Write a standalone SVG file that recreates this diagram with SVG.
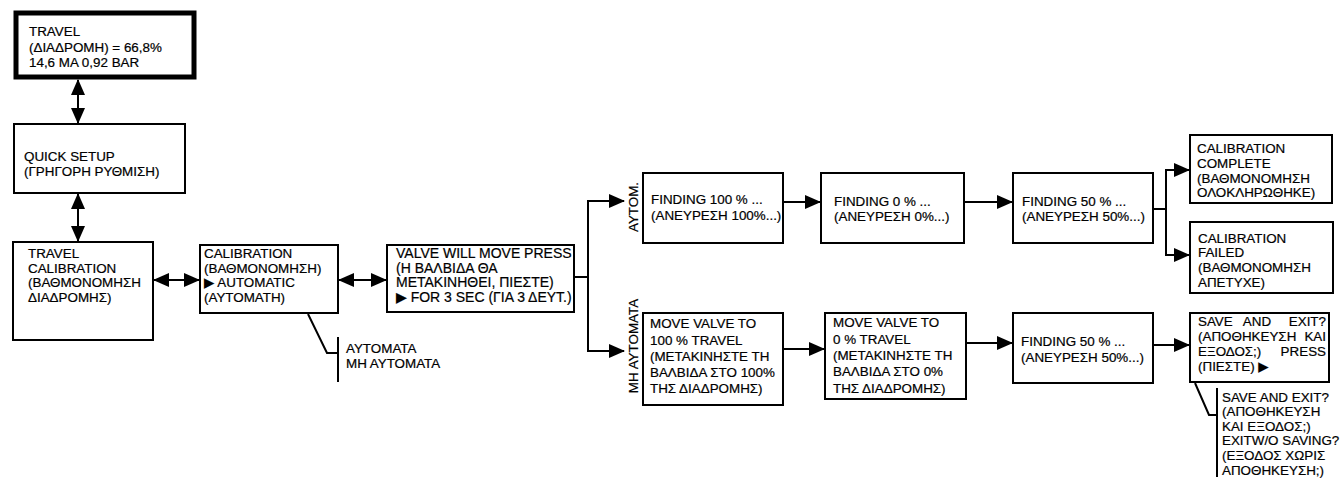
<svg xmlns="http://www.w3.org/2000/svg" width="1342" height="479" viewBox="0 0 1342 479">
<defs>
<style>
.b{fill:#fff;stroke:#000;stroke-width:2}
.bt{fill:#fff;stroke:#000;stroke-width:5}
.l{fill:none;stroke:#000;stroke-width:2}
text{font-family:"Liberation Sans",Arial,"DejaVu Sans",sans-serif;font-size:13.4px;fill:#000;stroke:#000;stroke-width:0.2}
.e{text-anchor:end}
.m{text-anchor:middle}
.v{font-size:14px}
</style>
<marker id="ah" markerUnits="userSpaceOnUse" markerWidth="16" markerHeight="15" viewBox="0 0 16 15" refX="15" refY="7.5" orient="auto-start-reverse">
<path d="M0,0.5 L16,7.5 L0,14.5 z" fill="#000"/>
</marker>
</defs>
<rect width="1342" height="479" fill="#fff"/>

<g id="connectors">
<line class="l" x1="78" y1="80" x2="78" y2="123" marker-start="url(#ah)" marker-end="url(#ah)"/>
<line class="l" x1="78" y1="194" x2="78" y2="241" marker-start="url(#ah)" marker-end="url(#ah)"/>
<line class="l" x1="154" y1="280" x2="199" y2="280" marker-start="url(#ah)" marker-end="url(#ah)"/>
<line class="l" x1="339" y1="280" x2="386" y2="280" marker-start="url(#ah)" marker-end="url(#ah)"/>
<polyline class="l" points="308,314 327,353 338,353"/>
<line class="l" x1="338" y1="337" x2="338" y2="382"/>
<line class="l" x1="574" y1="277" x2="588" y2="277"/>
<line class="l" x1="588" y1="200" x2="588" y2="352"/>
<polyline class="l" points="588,201 624,201" marker-end="url(#ah)"/>
<polyline class="l" points="588,351 624,351" marker-end="url(#ah)"/>
<line class="l" x1="783" y1="202" x2="820" y2="202" marker-end="url(#ah)"/>
<line class="l" x1="964" y1="202" x2="1012" y2="202" marker-end="url(#ah)"/>
<line class="l" x1="1153" y1="209" x2="1166" y2="209"/>
<line class="l" x1="1166" y1="169" x2="1166" y2="256"/>
<line class="l" x1="1166" y1="170" x2="1189" y2="170" marker-end="url(#ah)"/>
<line class="l" x1="1166" y1="255" x2="1189" y2="255" marker-end="url(#ah)"/>
<line class="l" x1="783" y1="349" x2="824" y2="349" marker-end="url(#ah)"/>
<line class="l" x1="966" y1="343" x2="1012" y2="343" marker-end="url(#ah)"/>
<line class="l" x1="1153" y1="345" x2="1189" y2="345" marker-end="url(#ah)"/>
<polyline class="l" points="1195,383 1209,415 1217,415"/>
<line class="l" x1="1217" y1="388" x2="1217" y2="477"/>
</g>

<g id="travel">
<rect class="bt" x="16" y="13" width="178" height="64"/>
<text x="29" y="36">TRAVEL</text>
<text x="29" y="52">(ΔΙΑΔΡΟΜΗ) = 66,8%</text>
<text x="29" y="67">14,6 MA 0,92 BAR</text>
</g>

<g id="quick-setup">
<rect class="b" x="14" y="124" width="171" height="69"/>
<text x="24" y="161">QUICK SETUP</text>
<text x="24" y="176">(ΓΡΗΓΟΡΗ ΡΥΘΜΙΣΗ)</text>
</g>

<g id="travel-calibration">
<rect class="b" x="13" y="242" width="140" height="98"/>
<text x="28" y="258">TRAVEL</text>
<text x="28" y="273">CALIBRATION</text>
<text x="28" y="287">(ΒΑΘΜΟΝΟΜΗΣΗ</text>
<text x="28" y="302">ΔΙΑΔΡΟΜΗΣ)</text>
</g>

<g id="calibration">
<rect class="b" x="200" y="245" width="138" height="68"/>
<text x="204" y="258">CALIBRATION</text>
<text x="204" y="273">(ΒΑΘΜΟΝΟΜΗΣΗ)</text>
<text x="204" y="287">▶ AUTOMATIC</text>
<text x="204" y="302">(ΑΥΤΟΜΑΤΗ)</text>
</g>

<g id="mode-options">
<text x="346" y="353">ΑΥΤΟΜΑΤΑ</text>
<text x="346" y="368">ΜΗ ΑΥΤΟΜΑΤΑ</text>
</g>

<g id="valve-will-move">
<rect class="b" x="387" y="245" width="187" height="67"/>
<text class="v" x="396" y="258">VALVE WILL MOVE PRESS</text>
<text class="v" x="396" y="273">(Η ΒΑΛΒΙΔΑ ΘΑ</text>
<text class="v" x="396" y="287">ΜΕΤΑΚΙΝΗΘΕΙ, ΠΙΕΣΤΕ)</text>
<text class="v" x="396" y="302">▶ FOR 3 SEC (ΓΙΑ 3 ΔΕΥΤ.)</text>
</g>

<g id="branch-labels">
<text class="m" transform="translate(638,207) rotate(-90)">ΑΥΤΟΜ.</text>
<text class="m" transform="translate(638,346) rotate(-90)">ΜΗ ΑΥΤΟΜΑΤΑ</text>
</g>

<g id="finding-100">
<rect class="b" x="643" y="173" width="140" height="70"/>
<text x="651" y="204">FINDING 100 % ...</text>
<text x="651" y="220">(ΑΝΕΥΡΕΣΗ 100%...)</text>
</g>

<g id="finding-0">
<rect class="b" x="821" y="173" width="143" height="70"/>
<text x="834" y="206">FINDING 0 % ...</text>
<text x="834" y="221">(ΑΝΕΥΡΕΣΗ 0%...)</text>
</g>

<g id="finding-50-auto">
<rect class="b" x="1013" y="173" width="140" height="70"/>
<text x="1022" y="206">FINDING 50 % ...</text>
<text x="1022" y="221">(ΑΝΕΥΡΕΣΗ 50%...)</text>
</g>

<g id="calibration-complete">
<rect class="b" x="1190" y="135" width="142" height="68"/>
<text x="1197" y="153">CALIBRATION</text>
<text x="1197" y="168">COMPLETE</text>
<text x="1197" y="183">(ΒΑΘΜΟΝΟΜΗΣΗ</text>
<text x="1197" y="197">ΟΛΟΚΛΗΡΩΘΗΚΕ)</text>
</g>

<g id="calibration-failed">
<rect class="b" x="1190" y="222" width="143" height="71"/>
<text x="1198" y="243">CALIBRATION</text>
<text x="1198" y="257">FAILED</text>
<text x="1198" y="272">(ΒΑΘΜΟΝΟΜΗΣΗ</text>
<text x="1198" y="287">ΑΠΕΤΥΧΕ)</text>
</g>

<g id="move-100">
<rect class="b" x="643" y="313" width="140" height="92"/>
<text x="650" y="328">MOVE VALVE TO</text>
<text x="650" y="345">100 % TRAVEL</text>
<text x="650" y="361">(ΜΕΤΑΚΙΝΗΣΤΕ ΤΗ</text>
<text x="650" y="377">ΒΑΛΒΙΔΑ ΣΤΟ 100%</text>
<text x="650" y="393">ΤΗΣ ΔΙΑΔΡΟΜΗΣ)</text>
</g>

<g id="move-0">
<rect class="b" x="825" y="313" width="141" height="86"/>
<text x="833" y="327">MOVE VALVE TO</text>
<text x="833" y="344">0 % TRAVEL</text>
<text x="833" y="360">(ΜΕΤΑΚΙΝΗΣΤΕ ΤΗ</text>
<text x="833" y="376">ΒΑΛΒΙΔΑ ΣΤΟ 0%</text>
<text x="833" y="393">ΤΗΣ ΔΙΑΔΡΟΜΗΣ)</text>
</g>

<g id="finding-50-manual">
<rect class="b" x="1013" y="313" width="140" height="70"/>
<text x="1021" y="346">FINDING 50 % ...</text>
<text x="1021" y="362">(ΑΝΕΥΡΕΣΗ 50%...)</text>
</g>

<g id="save-and-exit">
<rect class="b" x="1190" y="313" width="139" height="69"/>
<text x="1198" y="326">SAVE</text>
<text class="m" x="1257" y="326">AND</text>
<text class="e" x="1326" y="326">EXIT?</text>
<text x="1198" y="341">(ΑΠΟΘΗΚΕΥΣΗ</text>
<text class="e" x="1326" y="341">ΚΑΙ</text>
<text x="1198" y="356">ΕΞΟΔΟΣ;)</text>
<text class="e" x="1326" y="356">PRESS</text>
<text x="1198" y="371">(ΠΙΕΣΤΕ) ▶</text>
</g>

<g id="save-options">
<text x="1222" y="402">SAVE AND EXIT?</text>
<text x="1222" y="416">(ΑΠΟΘΗΚΕΥΣΗ</text>
<text x="1222" y="431">ΚΑΙ ΕΞΟΔΟΣ;)</text>
<text x="1222" y="445">EXITW/O SAVING?</text>
<text x="1222" y="460">(ΕΞΟΔΟΣ ΧΩΡΙΣ</text>
<text x="1222" y="475">ΑΠΟΘΗΚΕΥΣΗ;)</text>
</g>
</svg>
